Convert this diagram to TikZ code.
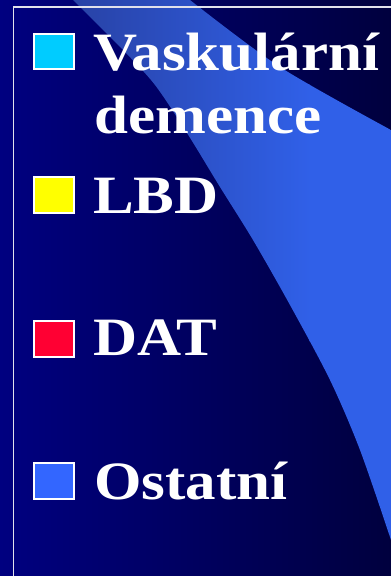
\documentclass[tikz,border=0pt]{standalone}
\usepackage{fontspec}
\newfontfamily\legfont{Liberation Serif}[FakeStretch=1.13]
\usetikzlibrary{positioning}
\definecolor{bgL}{RGB}{0,0,128}
\definecolor{bgR}{RGB}{0,0,62}
\definecolor{wedgeL}{RGB}{40,66,165}
\definecolor{wedgeR}{RGB}{48,96,232}
\definecolor{framec}{RGB}{225,225,235}
\definecolor{cyanb}{RGB}{0,204,255}
\definecolor{yellowb}{RGB}{255,255,0}
\definecolor{redb}{RGB}{255,0,51}
\definecolor{blueb}{RGB}{51,102,255}
\tikzset{
  bulletbox/.style={draw=white, line width=1.8pt, minimum width=40.5pt, minimum height=35.5pt, inner sep=0pt},
  legtext/.style={anchor=base west, inner sep=0pt, text=white, font=\legfont\bfseries\fontsize{54}{64}\selectfont},
  framebar/.style={draw=framec, line width=1.8pt}
}
\begin{document}
\begin{tikzpicture}[x=1pt,y=-1pt]
\useasboundingbox (0,0) rectangle (391,576);
% background
\shade[left color=bgL, right color=bgR] (0,0) rectangle (391,576);
% light wedge
\begin{scope}
\clip plot[smooth] coordinates {(73,0) (123,50) (155,85) (187,133) (220,187) (253,240) (290,305) (330,380) (360,450) (391,540)}
  -- (400,540) -- (400,130) -- (391,130)
  -- plot[smooth] coordinates {(391,130) (280,67) (190,0)} -- (190,-5) -- (73,-5) -- cycle;
\shade[left color=wedgeL, right color=wedgeR] (70,-5) rectangle (310,580);
\fill[wedgeR] (309,-5) rectangle (400,580);
\end{scope}
% frame
\coordinate (ftl) at (13.5,7);
\coordinate (ftr) at (395,7);
\coordinate (fbl) at (13.5,580);
\draw[framebar] (ftr) -- (ftl) -- (fbl);
% bullets
\node[bulletbox, fill=cyanb] (b1) at (54,51.5) {};
\node[bulletbox, fill=yellowb] (b2) at (54,195) {};
\node[bulletbox, fill=redb] (b3) at (54,339) {};
\node[bulletbox, fill=blueb] (b4) at (54,481) {};
% texts
\node[legtext] (t1) at (93,70) {Vaskulární};
\node[legtext] (t1b) at (94,133) {demence};
\node[legtext] (t2) at (93,213) {LBD};
\node[legtext] (t3) at (93,355) {DAT};
\node[legtext] (t4) at (94,499) {Ostatní};
\end{tikzpicture}
\end{document}
